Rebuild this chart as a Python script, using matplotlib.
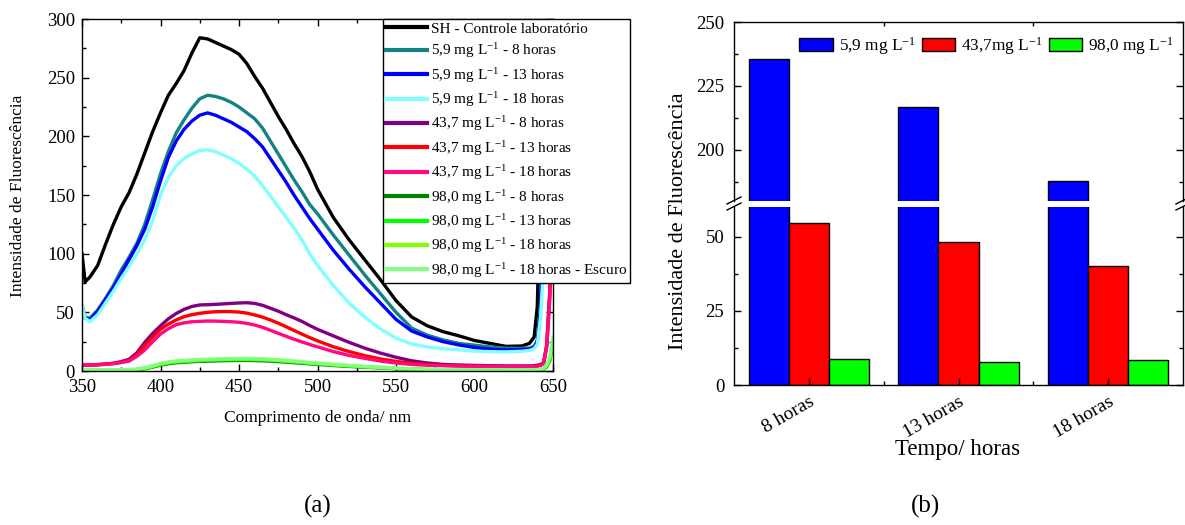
import matplotlib
matplotlib.use("Agg")
import matplotlib.pyplot as plt
from matplotlib.lines import Line2D
from matplotlib.patches import Patch
from matplotlib.ticker import MultipleLocator, FixedLocator
import numpy as np

plt.rcParams['font.family'] = ['Liberation Serif', 'DejaVu Serif']
plt.rcParams['mathtext.fontset'] = 'custom'
plt.rcParams['mathtext.rm'] = 'Liberation Serif'
plt.rcParams['mathtext.it'] = 'Liberation Serif:italic'
plt.rcParams['mathtext.bf'] = 'Liberation Serif:bold'

# ---------------- spectra (panel a) ----------------
wavelength = [350, 352, 355, 360, 365, 370, 375, 380, 385, 390,
              395, 400, 405, 410, 415, 420, 425, 430, 435, 440,
              445, 450, 455, 460, 465, 470, 475, 480, 485, 490,
              495, 500, 510, 520, 530, 540, 550, 560, 570, 580,
              590, 600, 610, 620, 630, 635, 638, 640, 642, 644,
              646, 648, 650]

sh_control = [100, 76, 80, 90, 108, 125, 140, 152, 168, 186,
              204, 220, 235, 245, 256, 271, 284, 283, 280, 277,
              274, 270, 262, 251, 241, 229, 217, 206, 194, 183,
              170, 155, 131, 112, 95, 78, 60, 46, 38.5, 33.5,
              30, 26, 23.5, 21, 21.3, 23.5, 29, 55, 160, 330,
              340, 345, 350]

c59_8h = [56, 46, 45, 52, 62, 73, 86, 97, 109, 125,
          146, 168, 187, 203, 214, 224, 232, 235, 234, 232,
          229, 225, 220, 215, 207, 196, 185, 174, 163, 153,
          142, 134, 116, 99, 82, 66, 50, 36.5, 30.5, 26.5,
          23.5, 22, 20.5, 19.5, 19.3, 19.5, 21, 26, 55, 160,
          330, 340, 345]

c59_13h = [53, 45, 43.5, 51, 61, 71, 83, 95, 107, 121,
           140, 162, 182, 196, 206, 213, 218, 220, 218, 215,
           212, 208, 204, 198, 191, 181, 171, 161, 150, 140,
           130, 121, 103, 87, 72, 58, 44, 34, 29, 25,
           22.2, 20, 18.5, 17.9, 18.3, 18.5, 20, 25, 52, 150,
           330, 340, 345]

c59_18h = [56, 45, 42, 48, 58, 68, 79, 89, 100, 112,
           128, 150, 165, 175, 181, 185, 188, 188.5, 187, 184,
           181, 177, 172, 166, 158, 149, 140, 131, 122, 112,
           100, 90, 73, 58, 46, 36, 28, 23, 20.5, 19,
           18, 17, 16.5, 16.3, 16.8, 17.5, 19, 23, 45, 90,
           330, 340, 345]

c437_8h = [5, 5, 5, 5.5, 6, 6.5, 8, 10, 15.5, 24.5,
           32, 38.5, 44.5, 49, 52.5, 55, 56.3, 56.5, 56.8, 57.2,
           57.6, 58, 58.2, 57.6, 56, 53.5, 51, 48, 45.3, 42.3,
           38.8, 35.5, 30, 24.5, 19.5, 15.3, 11.7, 8.7, 6.8, 5.6,
           5.1, 4.8, 4.5, 4.3, 4.3, 4.3, 4.5, 5, 5.5, 7,
           22, 68, 330]

c437_13h = [5, 5, 5, 5.3, 5.8, 6.5, 7.5, 9, 14, 22,
            29, 35.5, 40, 43.5, 46.3, 48, 49.2, 50, 50.5, 50.7,
            50.6, 50.2, 49.3, 47.8, 45.9, 43.5, 40.8, 37.7, 34.6, 31.5,
            28.5, 25.7, 20.7, 16.6, 13.1, 10.3, 8.2, 6.5, 5.5, 4.8,
            4.4, 4.2, 4, 3.9, 3.9, 3.9, 4, 4.3, 5, 6.5,
            22, 68, 330]

c437_18h = [5.5, 5.3, 5.2, 5.3, 5.7, 6.2, 7.2, 8.5, 12.5, 18,
            25, 31.5, 36, 39.5, 41, 42, 42.3, 42.6, 42.5, 42.3,
            42, 41.5, 40.6, 39.2, 37.2, 34.7, 32.1, 29.6, 27.1, 24.8,
            22.6, 20.6, 16.6, 13.3, 10.8, 8.5, 6.8, 5.6, 4.9, 4.5,
            4.2, 4, 3.9, 3.8, 3.8, 3.8, 3.9, 4.1, 4.6, 6,
            20, 62, 330]

c980_8h = [0.5, 0.5, 0.5, 0.4, 0.4, 0.4, 0.5, 0.6, 1, 1.8,
           3.3, 5, 6.2, 7, 7.5, 7.9, 8.2, 8.4, 8.6, 8.8,
           8.9, 9, 9, 8.9, 8.7, 8.4, 8, 7.6, 7.1, 6.6,
           6.1, 5.6, 4.7, 3.9, 3.2, 2.6, 2, 1.5, 1.1, 0.8,
           0.6, 0.5, 0.4, 0.4, 0.4, 0.4, 0.5, 0.6, 0.9, 1.5,
           3.5, 9, 24]

c980_13h = [0.8, 0.8, 0.7, 0.6, 0.6, 0.6, 0.7, 0.8, 1.2, 2.1,
            3.7, 5.5, 6.8, 7.6, 8.1, 8.5, 8.8, 9.1, 9.3, 9.5,
            9.6, 9.7, 9.7, 9.6, 9.4, 9.1, 8.7, 8.2, 7.7, 7.2,
            6.6, 6.1, 5.1, 4.3, 3.5, 2.8, 2.2, 1.7, 1.3, 1,
            0.8, 0.7, 0.6, 0.6, 0.6, 0.6, 0.7, 0.8, 1.1, 1.8,
            4, 10, 26]

c980_18h = [1, 1, 0.9, 0.8, 0.8, 0.8, 0.9, 1, 1.4, 2.4,
            4, 5.9, 7.3, 8.1, 8.6, 9, 9.3, 9.6, 9.8, 10,
            10.1, 10.2, 10.2, 10.1, 9.9, 9.5, 9.1, 8.6, 8.1, 7.5,
            6.9, 6.4, 5.4, 4.5, 3.7, 3, 2.4, 1.8, 1.4, 1.1,
            0.9, 0.8, 0.7, 0.7, 0.7, 0.7, 0.8, 0.9, 1.2, 2,
            4.5, 11, 27]

c980_18h_dark = [1.2, 1.2, 1.1, 1, 1, 1, 1.1, 1.2, 1.7, 2.8,
                 4.5, 6.4, 7.8, 8.6, 9.1, 9.5, 9.8, 10.1, 10.3, 10.5,
                 10.6, 10.7, 10.7, 10.6, 10.4, 10, 9.6, 9.1, 8.5, 7.9,
                 7.3, 6.8, 5.8, 4.8, 4, 3.2, 2.6, 2, 1.6, 1.3,
                 1.1, 1, 0.9, 0.9, 0.9, 0.9, 1, 1.1, 1.5, 2.5,
                 5.5, 13, 29]

spectra = [sh_control, c59_8h, c59_13h, c59_18h, c437_8h, c437_13h,
           c437_18h, c980_8h, c980_13h, c980_18h, c980_18h_dark]

spectra_labels = [
    "SH - Controle laboratório",
    r"5,9 mg L$^{-1}$ - 8 horas",
    r"5,9 mg L$^{-1}$ - 13 horas",
    r"5,9 mg L$^{-1}$ - 18 horas",
    r"43,7 mg L$^{-1}$ - 8 horas",
    r"43,7 mg L$^{-1}$ - 13 horas",
    r"43,7 mg L$^{-1}$ - 18 horas",
    r"98,0 mg L$^{-1}$ - 8 horas",
    r"98,0 mg L$^{-1}$ - 13 horas",
    r"98,0 mg L$^{-1}$ - 18 horas",
    r"98,0 mg L$^{-1}$ - 18 horas - Escuro",
]

spectra_colors = ["#000000", "#138282", "#0000ff", "#80ffff", "#800080",
                  "#ff0000", "#ff0a80", "#008000", "#00ff00", "#80ff00",
                  "#80ff80"]

# ---------------- bar chart (panel b) ----------------
periods = ["8 horas", "13 horas", "18 horas"]
bar_59 = [235.6, 216.9, 187.8]
bar_437 = [54.5, 48.2, 40.0]
bar_980 = [8.7, 7.8, 8.3]
bar_labels = [r"5,9 mg L$^{-1}$", r"43,7mg L$^{-1}$", r"98,0 mg L$^{-1}$"]
bar_colors = ["#0000ff", "#ff0000", "#00ff00"]

W, H = 1185, 525
fig = plt.figure(figsize=(W / 100, H / 100), dpi=100)


def fx(px):
    return px / W


def fy(py):
    return 1 - py / H


def style_ticks(ax, size=13.5, pad=5):
    ax.tick_params(which="both", direction="in", top=True, right=True,
                   width=1.0, labelsize=size)
    ax.tick_params(which="major", length=5, pad=pad)
    ax.tick_params(which="minor", length=3)
    for s in ax.spines.values():
        s.set_linewidth(1.0)


# ---- panel (a) ----
ax1 = fig.add_axes([fx(82), fy(371), fx(471), 352 / H])
for y, c in zip(spectra, spectra_colors):
    ax1.plot(wavelength, y, color=c, lw=2.4, solid_joinstyle="round")
ax1.set_xlim(350, 650)
ax1.set_ylim(0, 300)
ax1.xaxis.set_major_locator(MultipleLocator(50))
ax1.xaxis.set_minor_locator(MultipleLocator(25))
ax1.yaxis.set_major_locator(MultipleLocator(50))
ax1.yaxis.set_minor_locator(MultipleLocator(25))
style_ticks(ax1)
ax1.tick_params(axis="x", which="major", pad=6)

handles = [Line2D([], [], color=c, lw=3) for c in spectra_colors]
leg = ax1.legend(handles, spectra_labels, loc="upper left",
                 bbox_to_anchor=(fx(383), fy(19)), bbox_transform=fig.transFigure,
                 fontsize=11.0, frameon=True, fancybox=False, edgecolor="black",
                 borderpad=0.2, labelspacing=0.36, handlelength=2.65,
                 handletextpad=0.3, borderaxespad=0)
leg.get_frame().set_linewidth(1.0)
leg.get_frame().set_alpha(1)

fig.text(fx(318), fy(418), "Comprimento de onda/ nm", ha="center", va="center",
         fontsize=12.5)
fig.text(fx(18), fy(196), "Intensidade de Fluorescência", ha="center",
         va="center", rotation=90, fontsize=12.5)
fig.text(fx(318), fy(506), "(a)", ha="center", va="center", fontsize=18)

# ---- panel (b), broken y axis ----
axT = fig.add_axes([fx(734), fy(201), fx(449), 179 / H])
axB = fig.add_axes([fx(734), fy(385), fx(449), 178 / H])
x = np.arange(len(periods))
bw = 0.268
for ax in (axT, axB):
    for k, (vals, c) in enumerate(zip([bar_59, bar_437, bar_980], bar_colors)):
        ax.bar(x + (k - 1) * bw, vals, bw, color=c, edgecolor="black", lw=1.0,
               zorder=1)
    ax.set_xlim(-0.5, 2.5)
    ax.xaxis.set_major_locator(FixedLocator(x))
    ax.xaxis.set_minor_locator(FixedLocator([0.5, 1.5]))
    style_ticks(ax, pad=7)
    ax.set_axisbelow(False)

axT.set_ylim(180, 250)
axT.yaxis.set_major_locator(FixedLocator([200, 225, 250]))
axT.yaxis.set_minor_locator(FixedLocator([187.5, 212.5, 237.5]))
axT.spines["bottom"].set_visible(False)
axT.tick_params(which="both", bottom=False, labelbottom=False)
axT.tick_params(which="major", top=False)

axB.set_ylim(0, 60)
axB.yaxis.set_major_locator(FixedLocator([0, 25, 50]))
axB.yaxis.set_minor_locator(FixedLocator([12.5, 37.5]))
axB.spines["top"].set_visible(False)
axB.tick_params(which="both", top=False)
axB.set_xticks(x)
axB.set_xticklabels(periods, rotation=30, ha="right", va="top",
                    rotation_mode="anchor", fontsize=14)
axB.tick_params(axis="x", which="major", pad=6)

# break marks on both spines
for xp in (734, 1183):
    for yp in (200.5, 206.5):
        fig.add_artist(Line2D([fx(xp - 7), fx(xp + 7)], [fy(yp + 3.5), fy(yp - 3.5)],
                              color="black", lw=1.0, transform=fig.transFigure))

bar_handles = [Patch(facecolor=c, edgecolor="black", lw=1.0) for c in bar_colors]
fig.legend(bar_handles, bar_labels, loc="center right",
           bbox_to_anchor=(fx(1174), fy(46)), ncol=3, frameon=False,
           fontsize=12.4, handlelength=1.95, handleheight=0.75,
           handletextpad=0.35, columnspacing=0.35, borderaxespad=0, borderpad=0)

fig.text(fx(678), fy(221), "Intensidade de Fluorescência", ha="center",
         va="center", rotation=90, fontsize=16)
fig.text(fx(958), fy(449), "Tempo/ horas", ha="center", va="center",
         fontsize=16.5)
fig.text(fx(925), fy(506), "(b)", ha="center", va="center", fontsize=18)

fig.savefig("out.png", dpi=100)
